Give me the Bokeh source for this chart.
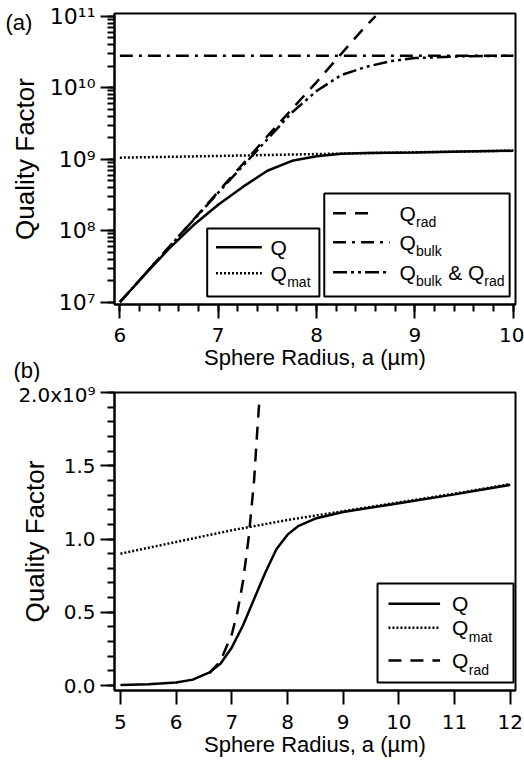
import numpy as np
from bokeh.plotting import figure
from bokeh.models import Range1d, Label, Title, SingleIntervalTicker, LogTicker
from bokeh.layouts import column
from bokeh.embed import file_html
from bokeh.resources import INLINE

FONT = "Liberation Sans"
TICK_FONT = "DejaVu Sans"

# ---------------- data, panel (a) (log scale) ----------------
a_radius_q = [6.0, 6.25, 6.5, 6.75, 7.0, 7.25, 7.5, 7.75, 8.0, 8.25, 8.5, 9.0, 9.5, 10.0]
a_q = [1.0e7, 2.4e7, 5.6e7, 1.2e8, 2.3e8, 4.1e8, 6.9e8, 9.5e8, 1.10e9, 1.19e9, 1.22e9, 1.24e9, 1.28e9, 1.31e9]
a_radius_mat = [6.0, 7.0, 8.0, 9.0, 10.0]
a_q_mat = [1.05e9, 1.11e9, 1.18e9, 1.25e9, 1.32e9]
a_radius_rad = [6.0, 6.5, 7.0, 7.5, 8.0, 8.5, 8.6]
a_q_rad = [1.0e7, 5.9e7, 3.5e8, 2.1e9, 1.2e10, 7.3e10, 1.0e11]
a_radius_bulk = [6.0, 10.0]
a_q_bulk = [2.8e10, 2.8e10]
a_radius_br = [6.0, 6.5, 7.0, 7.5, 7.75, 8.0, 8.25, 8.5, 8.75, 9.0, 9.5, 10.0]
a_q_br = [1.0e7, 5.9e7, 3.4e8, 1.9e9, 4.5e9, 9.0e9, 1.5e10, 1.95e10, 2.35e10, 2.6e10, 2.75e10, 2.8e10]
a_yticks = [1e7, 1e8, 1e9, 1e10, 1e11]
a_ytick_labels = ["10\u2077", "10\u2078", "10\u2079", "10\u00b9\u2070", "10\u00b9\u00b9"]

# ---------------- data, panel (b) (linear scale) ----------------
b_radius_q = [5.0, 5.5, 6.0, 6.3, 6.6, 6.8, 7.0, 7.2, 7.4, 7.6, 7.8, 8.0, 8.2, 8.5, 9.0, 10.0, 11.0, 12.0]
b_q = [0.003e9, 0.008e9, 0.02e9, 0.04e9, 0.09e9, 0.15e9, 0.26e9, 0.41e9, 0.59e9, 0.77e9, 0.93e9,
       1.03e9, 1.09e9, 1.14e9, 1.185e9, 1.245e9, 1.305e9, 1.37e9]
b_radius_mat = [5.0, 6.0, 7.0, 8.0, 9.0, 10.0, 11.0, 12.0]
b_q_mat = [0.90e9, 0.98e9, 1.06e9, 1.13e9, 1.19e9, 1.25e9, 1.31e9, 1.375e9]
b_radius_rad = [6.6, 6.8, 7.0, 7.1, 7.2, 7.3, 7.4, 7.45, 7.49]
b_q_rad = [0.084e9, 0.17e9, 0.35e9, 0.50e9, 0.71e9, 1.0e9, 1.4e9, 1.7e9, 1.92e9]
b_yticks = [0.0, 0.5e9, 1.0e9, 1.5e9, 2.0e9]
b_ytick_labels = ["0.0", "0.5", "1.0", "1.5", "2.0x10\u2079"]

XLABEL = "Sphere Radius, a (\u00b5m)"
YLABEL = "Quality Factor"

SOLID, DOT, DASH, DASHDOT, DASHDOTDOT = "solid", "2 2", "13 9", "13 6 3 6", "14 4 3 4 3 4"


def mapper(fl, fr, ft, fb, x0, x1, y0, y1, logy):
    """page-pixel -> data conversion, used only to place legend decorations"""
    def fx(px):
        return x0 + (px - fl) / (fr - fl) * (x1 - x0)

    def fy(py):
        t = (fb - py) / (fb - ft)
        if logy:
            return 10 ** (np.log10(y0) + t * (np.log10(y1) - np.log10(y0)))
        return y0 + t * (y1 - y0)
    return fx, fy


def base_style(p):
    p.outline_line_color = "black"
    p.outline_line_width = 2
    p.xgrid.visible = False
    p.ygrid.visible = False
    p.background_fill_color = "white"
    p.border_fill_color = "white"


def style_axis(ax, ticker, overrides, title, title_size, title_standoff, lab_size, lab_standoff):
    ax.ticker = ticker
    ax.axis_line_width = 2
    ax.axis_line_color = "black"
    ax.major_tick_in = 0
    ax.major_tick_out = 14
    ax.major_tick_line_width = 2
    ax.major_tick_line_color = "black"
    ax.minor_tick_in = 0
    ax.minor_tick_out = 7
    ax.minor_tick_line_width = 2
    ax.minor_tick_line_color = "black"
    ax.major_label_text_font = TICK_FONT
    ax.major_label_text_font_size = lab_size
    ax.major_label_text_color = "black"
    ax.major_label_standoff = lab_standoff
    ax.axis_label = title
    ax.axis_label_text_font = FONT
    ax.axis_label_text_font_size = title_size
    ax.axis_label_text_font_style = "normal"
    ax.axis_label_text_color = "black"
    ax.axis_label_standoff = title_standoff
    if overrides:
        ax.major_label_overrides = overrides


def label(p, x, y, text, size, **kw):
    p.add_layout(Label(x=x, y=y, text=text, text_font=FONT, text_font_size=size,
                       text_color="black", text_baseline="middle", **kw))


def legend(p, fx, fy, box, rows):
    l, t, r, b = box
    p.quad(left=[fx(l)], right=[fx(r)], top=[fy(t)], bottom=[fy(b)],
           fill_color="white", line_color="black", line_width=2)
    for ry, s0, s1, dash, pieces in rows:
        p.line([fx(s0), fx(s1)], [fy(ry), fy(ry)], line_color="black", line_width=2.5,
               line_dash=dash)
        for px, txt, sub in pieces:
            if sub:
                label(p, fx(px), fy(ry + 9), txt, "14px")
            else:
                label(p, fx(px), fy(ry), txt, "21px")


def panel_tag(text, offset, standoff, valign):
    return Title(text=text, align="left", offset=offset, standoff=standoff,
                 vertical_align=valign, text_font=FONT, text_font_size="22px",
                 text_font_style="normal", text_color="black")


# ================= panel (a) =================
A_FL, A_FR, A_FT, A_FB = 104, 515, 13, 304
A_H = 382
a_x0 = 6 - (109.5 - A_FL) / 100.8
a_x1 = a_x0 + (A_FR - A_FL) / 100.8
a_ly1 = 11 + (15.7 - A_FT) / 71.5
a_ly0 = a_ly1 - (A_FB - A_FT) / 71.5

pa = figure(width=524, height=A_H, y_axis_type="log",
            x_range=Range1d(a_x0, a_x1), y_range=Range1d(10 ** a_ly0, 10 ** a_ly1),
            output_backend="svg", toolbar_location=None,
            min_border_left=A_FL, min_border_right=524 - A_FR,
            min_border_top=A_FT, min_border_bottom=A_H - A_FB)
base_style(pa)
style_axis(pa.xaxis[0], SingleIntervalTicker(interval=1, num_minor_ticks=5), None,
           XLABEL, "22px", 0, "20px", 9)
style_axis(pa.yaxis[0], LogTicker(num_minor_ticks=10),
           {float(k): v for k, v in zip(a_yticks, a_ytick_labels)}, YLABEL, "26px", 7, "22px", 5)

pa.line(a_radius_mat, a_q_mat, line_color="black", line_width=2.5, line_dash=DOT)
pa.line(a_radius_bulk, a_q_bulk, line_color="black", line_width=2.5, line_dash=DASHDOT)
pa.line(a_radius_br, a_q_br, line_color="black", line_width=2.5, line_dash=DASHDOTDOT)
pa.line(a_radius_rad, a_q_rad, line_color="black", line_width=2.5, line_dash=DASH)
pa.line(a_radius_q, a_q, line_color="black", line_width=2.5)

afx, afy = mapper(A_FL, A_FR, A_FT, A_FB, a_x0, a_x1, 10 ** a_ly0, 10 ** a_ly1, True)
legend(pa, afx, afy, (199, 228, 314, 296), [
    (246.7, 208, 255, SOLID, [(264, "Q", False)]),
    (272.7, 208, 255, DOT, [(264, "Q", False), (281, "mat", True)]),
])
legend(pa, afx, afy, (319, 193, 509, 296), [
    (212.7, 328, 372, DASH, [(396, "Q", False), (413, "rad", True)]),
    (241.7, 328, 386, DASHDOT, [(396, "Q", False), (413, "bulk", True)]),
    (271.7, 328, 386, DASHDOTDOT, [(396, "Q", False), (413, "bulk", True),
                                   (446, "& Q", False), (483, "rad", True)]),
])
pa.add_layout(panel_tag("(a)", -109, -42, "bottom"), "above")
pa.add_layout(panel_tag("(b)", -101, -30, "top"), "below")

# ================= panel (b) =================
B_TOP = A_H
B_FL, B_FR, B_FT, B_FB = 114, 518, 392, 690
B_H = 768 - B_TOP
b_x0 = 5 - (120 - B_FL) / 56.1
b_x1 = b_x0 + (B_FR - B_FL) / 56.1
b_y0 = -(B_FB - 685) / 146.5 * 1e9
b_y1 = max(b_y0 + (B_FB - B_FT) / 146.5 * 1e9, 2.0005e9)

pb = figure(width=524, height=B_H,
            x_range=Range1d(b_x0, b_x1), y_range=Range1d(b_y0, b_y1),
            output_backend="svg", toolbar_location=None,
            min_border_left=B_FL, min_border_right=524 - B_FR,
            min_border_top=B_FT - B_TOP, min_border_bottom=768 - B_FB)
base_style(pb)
style_axis(pb.xaxis[0], SingleIntervalTicker(interval=1, num_minor_ticks=0), None,
           XLABEL, "22px", 0, "20px", 10)
style_axis(pb.yaxis[0], SingleIntervalTicker(interval=5e8, num_minor_ticks=5),
           {float(k): v for k, v in zip(b_yticks, b_ytick_labels)}, YLABEL, "26px", -35, "20px", 5)

pb.line(b_radius_mat, b_q_mat, line_color="black", line_width=2.5, line_dash=DOT)
pb.line(b_radius_rad, b_q_rad, line_color="black", line_width=2.5, line_dash=DASH)
pb.line(b_radius_q, b_q, line_color="black", line_width=2.5)

bfx, bfy = mapper(B_FL, B_FR, B_FT, B_FB, b_x0, b_x1, b_y0, b_y1, False)
legend(pb, bfx, bfy, (379, 583, 516, 682), [
    (603.3, 390, 442, SOLID, [(454, "Q", False)]),
    (627.3, 390, 442, DOT, [(454, "Q", False), (471, "mat", True)]),
    (660.0, 390, 442, DASH, [(454, "Q", False), (471, "rad", True)]),
])

layout = column(pa, pb, spacing=0)
open("out.html", "w").write(file_html(layout, INLINE))
